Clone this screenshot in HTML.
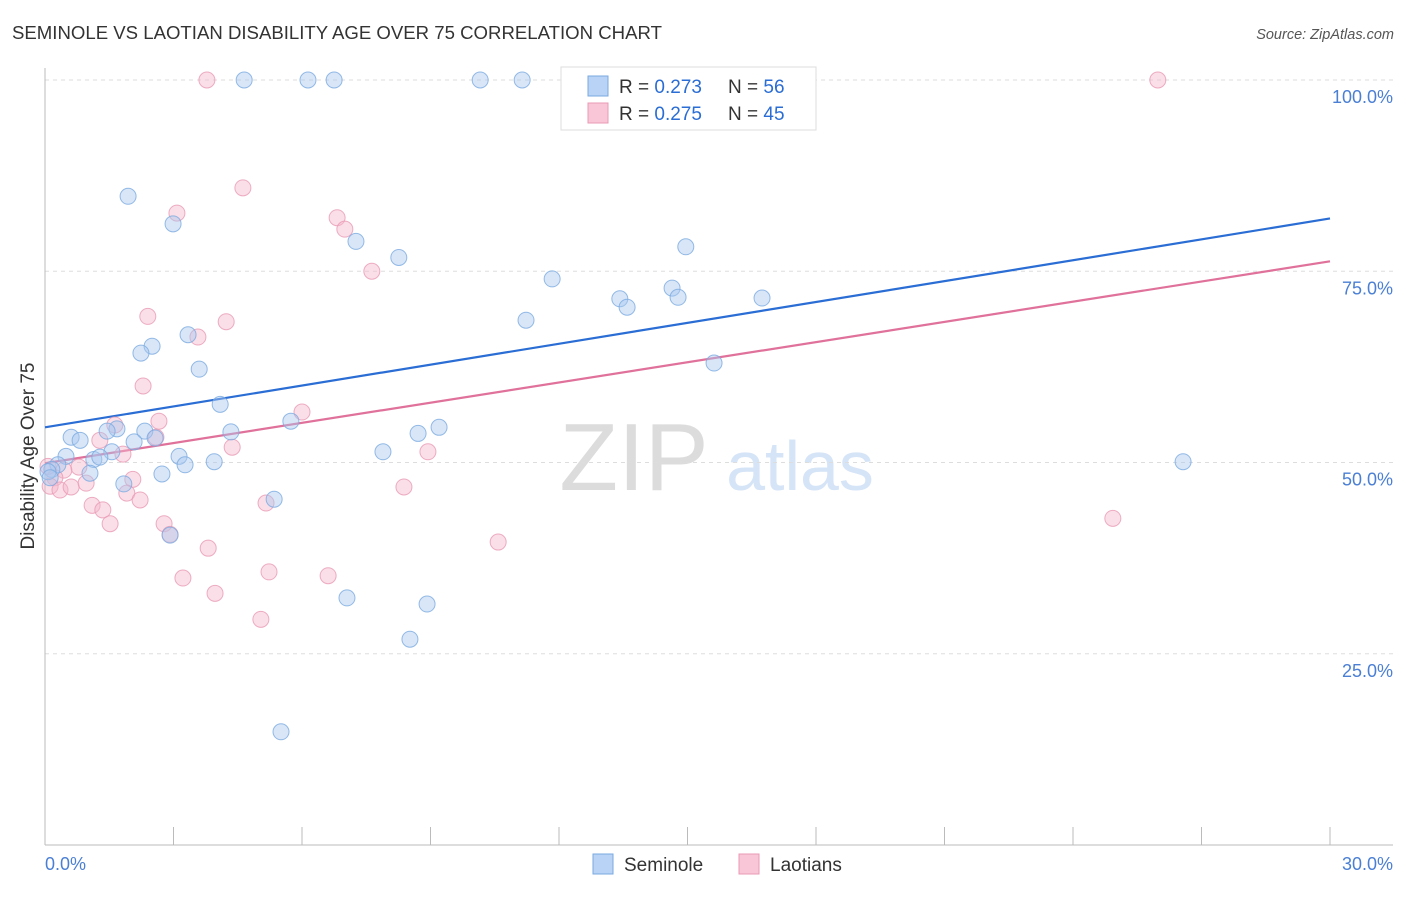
<!DOCTYPE html>
<html><head><meta charset="utf-8"><style>
body{margin:0;background:#fff;font-family:"Liberation Sans",sans-serif;}
svg text{font-family:"Liberation Sans",sans-serif;}
</style></head><body>
<svg id="chart" width="1406" height="892">
<text x="12" y="39" font-size="18.6" fill="#333">SEMINOLE VS LAOTIAN DISABILITY AGE OVER 75 CORRELATION CHART</text>
<text x="1394" y="39" font-size="14.5" fill="#555" font-style="italic" text-anchor="end">Source: ZipAtlas.com</text>
<text x="634" y="490" font-size="96" fill="#dcdcdc" font-family="Liberation Serif" text-anchor="middle">ZIP</text>
<text x="800" y="490" font-size="70" fill="#d6e4f7" text-anchor="middle">atlas</text>
<g id="grid"></g>
<g id="axes"></g>
<g id="lines"></g>
<g id="pts"></g>
<text transform="translate(34,456) rotate(-90)" font-size="19" fill="#333" text-anchor="middle">Disability Age Over 75</text>
<g>
<rect x="561" y="67" width="255" height="63" fill="#fff" stroke="#ddd"/>
<rect x="588" y="76" width="20" height="20" fill="#b8d3f5" stroke="#7aaae0"/>
<rect x="588" y="103" width="20" height="20" fill="#f8c6d6" stroke="#e89ab4"/>
<text x="619" y="93" font-size="19" fill="#333">R = <tspan fill="#2a6dd4">0.273</tspan></text>
<text x="728" y="93" font-size="19" fill="#333">N = <tspan fill="#2a6dd4">56</tspan></text>
<text x="619" y="120" font-size="19" fill="#333">R = <tspan fill="#2a6dd4">0.275</tspan></text>
<text x="728" y="120" font-size="19" fill="#333">N = <tspan fill="#2a6dd4">45</tspan></text>
</g>
<g>
<rect x="593" y="854" width="20" height="20" fill="#b8d3f5" stroke="#7aaae0"/>
<text x="624" y="871" font-size="19" fill="#333">Seminole</text>
<rect x="739" y="854" width="20" height="20" fill="#f8c6d6" stroke="#e89ab4"/>
<text x="770" y="871" font-size="19" fill="#333">Laotians</text>
</g>
</svg>
<script>
const xTicks=[0,3,6,9,12,15,18,21,24,27,30];
const yTicks=[25,50,75,100];
const seminoleX=[4.65,6.14,6.75,10.16,11.14,1.94,2.99,7.26,8.26,14.96,11.84,13.42,13.59,14.64,14.78,16.74,11.23,3.34,2.50,2.24,3.60,15.62,4.09,5.74,9.20,8.71,4.34,7.89,1.68,1.45,2.33,2.57,2.08,0.61,0.82,1.56,0.49,1.14,1.28,3.13,3.27,3.95,0.30,0.16,0.07,0.12,1.05,2.73,1.84,5.35,2.92,7.05,8.92,8.52,5.51,26.57];
const seminoleY=[100,100,100,100,100,84.8,81.2,78.9,76.8,78.2,74.0,71.4,70.3,72.8,71.6,71.5,68.6,66.7,65.2,64.3,62.2,63.0,57.6,55.4,54.6,53.8,54.0,51.4,54.4,54.1,54.1,53.2,52.7,53.3,52.9,51.4,50.8,50.4,50.7,50.8,49.7,50.1,49.7,49.1,48.8,48.0,48.6,48.5,47.2,45.2,40.5,32.3,31.5,26.9,14.8,50.1];
const laoX=[3.78,25.98,4.62,3.08,6.82,7.00,7.63,2.40,4.23,3.57,2.29,6.00,2.66,1.63,2.59,4.37,1.28,1.82,8.94,0.79,0.44,0.23,0.12,0.35,0.61,0.96,2.05,1.91,8.38,2.22,1.10,1.35,5.16,1.52,2.78,2.92,3.81,10.58,24.93,3.22,5.23,6.61,3.97,5.04,0.07];
const laoY=[100,100,85.9,82.6,82.0,80.5,75.0,69.1,68.4,66.4,60.0,56.6,55.4,54.9,53.3,52.0,52.9,51.1,51.4,49.4,49.0,48.0,46.9,46.4,46.8,47.3,47.8,46.0,46.8,45.1,44.4,43.8,44.7,42.0,42.0,40.6,38.8,39.6,42.7,34.9,35.7,35.2,32.9,29.5,49.5];
const seminoleTrend=[54.6,81.9];
const laoTrend=[49.9,76.3];
const NS="http://www.w3.org/2000/svg";
const X0=45,X1=1330,Y0=845,Y100=80;
const sx=v=>X0+(v/30)*(X1-X0);
const sy=v=>Y0-(v/100)*(Y0-Y100);
function mk(tag,attrs,parent){const e=document.createElementNS(NS,tag);for(const k in attrs)e.setAttribute(k,attrs[k]);parent.appendChild(e);return e;}
const grid=document.getElementById('grid'),axes=document.getElementById('axes'),lines=document.getElementById('lines'),pts=document.getElementById('pts');
yTicks.forEach(t=>{
 const l=mk('line',{x1:X0,x2:1393,y1:sy(t),y2:sy(t),stroke:'#ddd','stroke-dasharray':'4,4'},grid);
 
 
 const tx=mk('text',{x:1393,y:sy(t)+23,'font-size':18,fill:'#4a7fd4','text-anchor':'end'},grid);
 tx.textContent=t.toFixed(1)+'%';
 
 
});
const ya=mk('line',{x1:X0,x2:X0,y1:68,y2:Y0,stroke:'#bbb'},axes);


const xa=mk('line',{x1:X0,x2:1393,y1:Y0,y2:Y0,stroke:'#bbb'},axes);


xTicks.forEach(t=>{
 const l=mk('line',{x1:sx(t),x2:sx(t),y1:Y0,y2:Y0-18,stroke:'#bbb'},axes);
 
 
});
[[0,'start',X0],[30,'end',1393]].forEach(([v,a,x])=>{
 const tx=mk('text',{x:x,y:870,'font-size':18,fill:'#4a7fd4','text-anchor':a},axes);
 tx.textContent=v.toFixed(1)+'%';
 
 
});
function drawPts(xs,ys,fill,stroke,name){
 xs.forEach((x,i)=>{
  const c=mk('circle',{cx:sx(x),cy:sy(ys[i]),r:8,fill:fill,'fill-opacity':0.45,stroke:stroke,'stroke-opacity':0.8,'stroke-width':1},pts);
  
  
 });
}
drawPts(laoX,laoY,'#f5b8cb','#e89ab4','laotians-point');
drawPts(seminoleX,seminoleY,'#a8c8f0','#7aaae0','seminole-point');
function drawTrend(tr,col,name){
 const l=mk('line',{x1:sx(0),y1:sy(tr[0]),x2:sx(30),y2:sy(tr[1]),stroke:col,'stroke-width':2.2},lines);
 
 
}
drawTrend(seminoleTrend,'#2a6dd4','seminole-trendline');
drawTrend(laoTrend,'#e0719a','laotians-trendline');
</script>
</body></html>
